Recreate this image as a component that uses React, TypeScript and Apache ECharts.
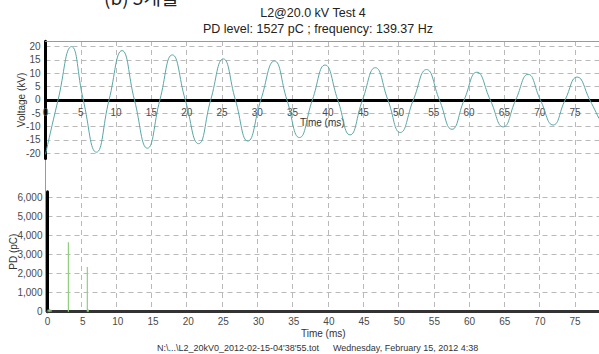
import React, { useEffect, useRef } from 'react';
import * as echarts from 'echarts';

// Voltage waveform: extrema and zero crossings
const voltageTime = [
  0, 1.78, 3.68, 5.35, 7.21, 9.0, 10.84, 12.6, 14.43, 16.2, 17.96, 19.8, 21.68, 23.4, 25.18,
  26.9, 28.66, 30.5, 32.43, 34.2, 35.97, 37.8, 39.6, 41.4, 43.14, 44.9, 46.72, 48.5, 50.25,
  52.1, 53.97, 55.8, 57.57, 59.3, 61.1, 63.0, 64.83, 66.6, 68.36, 70.1, 71.9, 73.6, 75.3, 77.1, 78.4,
];
const voltageKV = [
  -20.4, 0, 20.0, 0, -19.6, 0, 18.5, 0, -18.1, 0, 16.9, 0, -16.4, 0, 15.4,
  0, -15.4, 0, 14.6, 0, -14.1, 0, 13.1, 0, -13.1, 0, 12.1, 0, -12.2,
  0, 11.4, 0, -11.0, 0, 10.4, 0, -10.1, 0, 9.6, 0, -9.4, 0, 8.6, 0, -7.0,
];

// PD pulses
const pdTime = [0.1, 0.3, 0.5, 2.97, 5.66, 5.8];
const pdPC = [120, 150, 100, 3650, 2350, 120];

const voltageTicks = [-20, -15, -10, -5, 0, 5, 10, 15, 20];
const pdTicks = [0, 1000, 2000, 3000, 4000, 5000, 6000];
const timeMin = 0;
const timeMax = 78.4;
const timeInterval = 5;

const titleLine1 = 'L2@20.0 kV Test 4';
const titleLine2 = 'PD level: 1527 pC ; frequency: 139.37 Hz';
const fileText = "N:\\...\\L2_20kV0_2012-02-15-04'38'55.tot";
const dateText = 'Wednesday, February 15, 2012 4:38';
const captionText = '(b) 5개월';

const FONT = '"Liberation Sans", Arial, sans-serif';

export default function App() {
  const ref = useRef<HTMLDivElement>(null);
  useEffect(() => {
    document.body.style.margin = '0';
    const chart = echarts.init(ref.current!, null, { renderer: 'svg' });
    const dash = { color: '#b9b9b9', width: 1, type: [5, 4] as any };
    const labelStyle = { fontSize: 10, color: '#4a4a4a', fontFamily: FONT };
    const nameStyle = { fontSize: 10, color: '#333', fontFamily: FONT };
    const pdSegments: any[] = [];
    pdTime.forEach((t, i) => {
      pdSegments.push([t, 0], [t, pdPC[i]], [t, '-']);
    });
    const upperHeight = 117.3;
    chart.setOption({
      animation: false,
      textStyle: { fontFamily: FONT },
      grid: [
        { left: 45.5, right: 0, top: 41, height: 270.7 },
        { left: 45.5, right: 0, top: 41.3, height: upperHeight },
        { left: 45.5, right: 0, top: 191.7, height: 120 },
      ],
      xAxis: [
        {
          gridIndex: 0, type: 'value', min: timeMin, max: timeMax, interval: timeInterval,
          position: 'top',
          axisLine: { show: true, onZero: false, lineStyle: { color: '#9a9a9a', width: 1 } },
          axisTick: { show: false }, axisLabel: { show: false },
          splitLine: { show: true, lineStyle: dash },
        },
        {
          gridIndex: 1, type: 'value', min: timeMin, max: timeMax, interval: timeInterval,
          axisLine: { show: true, onZero: true, lineStyle: { color: '#000', width: 3 } },
          axisTick: { show: false }, axisLabel: { show: false },
          splitLine: { show: false },
        },
        {
          gridIndex: 1, type: 'value', min: timeMin, max: timeMax, interval: timeInterval,
          position: 'bottom', offset: -upperHeight / 2,
          axisLine: { show: false, onZero: false },
          axisTick: { show: false },
          axisLabel: { ...labelStyle, margin: 8, showMaxLabel: false },
          splitLine: { show: false },
          name: 'Time (ms)', nameLocation: 'middle', nameGap: 18, nameMoveOverlap: false,
          nameTextStyle: nameStyle,
        },
        {
          gridIndex: 2, type: 'value', min: timeMin, max: timeMax, interval: timeInterval,
          axisLine: { show: true, onZero: true, lineStyle: { color: '#333', width: 3 } },
          axisTick: { show: false },
          axisLabel: { ...labelStyle, margin: 5, showMaxLabel: false },
          splitLine: { show: false },
          name: 'Time (ms)', nameLocation: 'middle', nameGap: 16.5, nameMoveOverlap: false,
          nameTextStyle: nameStyle,
        },
      ],
      yAxis: [
        {
          gridIndex: 0, type: 'value', min: 0, max: 1,
          axisLine: { show: true, lineStyle: { color: '#9a9a9a', width: 1 } },
          axisTick: { show: false }, axisLabel: { show: false }, splitLine: { show: false },
        },
        {
          gridIndex: 1, type: 'value', min: -22, max: 22,
          axisLine: { show: true, onZero: false, lineStyle: { color: '#000', width: 3 } },
          axisTick: { show: false, customValues: voltageTicks },
          axisLabel: { ...labelStyle, margin: 5, customValues: voltageTicks },
          splitLine: { show: true, lineStyle: dash },
          name: 'Voltage (kV)', nameLocation: 'middle', nameGap: 19, nameMoveOverlap: false,
          nameTextStyle: nameStyle,
        },
        {
          gridIndex: 2, type: 'value', min: 0, max: 6300,
          axisLine: { show: true, onZero: false, lineStyle: { color: '#000', width: 3 } },
          axisTick: { show: false, customValues: pdTicks },
          axisLabel: { ...labelStyle, margin: 5, customValues: pdTicks },
          splitLine: { show: true, lineStyle: dash },
          name: 'PD (pC)', nameLocation: 'middle', nameGap: 29.5, nameMoveOverlap: false,
          nameTextStyle: nameStyle,
        },
      ],
      series: [
        {
          type: 'line', xAxisIndex: 1, yAxisIndex: 1,
          data: voltageTime.map((t, i) => [t, voltageKV[i]]),
          smooth: 0.5, showSymbol: false, symbol: 'none',
          lineStyle: { color: '#5aa6a6', width: 1 },
          z: 3,
        },
        {
          type: 'line', xAxisIndex: 3, yAxisIndex: 2,
          data: pdSegments,
          showSymbol: false, symbol: 'none', connectNulls: false,
          lineStyle: { color: '#8fcf7f', width: 1.2 },
          z: 3,
        },
      ],
      graphic: [
        {
          type: 'text', left: 104, top: -13,
          style: { text: captionText, fontSize: 19, fill: '#222', fontFamily: '"Noto Sans CJK KR", sans-serif' },
        },
        {
          type: 'text', x: 313, y: 13,
          style: { text: titleLine1, fontSize: 12.5, fill: '#222', fontFamily: FONT, align: 'center', verticalAlign: 'middle' },
        },
        {
          type: 'text', x: 318, y: 28.5,
          style: { text: titleLine2, fontSize: 12.5, fill: '#222', fontFamily: FONT, align: 'center', verticalAlign: 'middle' },
        },
        {
          type: 'text', x: 157, y: 348,
          style: { text: fileText, fontSize: 9, fill: '#333', fontFamily: FONT, align: 'left', verticalAlign: 'middle' },
        },
        {
          type: 'text', x: 333, y: 348,
          style: { text: dateText, fontSize: 9, fill: '#333', fontFamily: FONT, align: 'left', verticalAlign: 'middle' },
        },
      ],
    });
    return () => chart.dispose();
  }, []);
  return <div ref={ref} style={{ width: 599, height: 354 }} />;
}
